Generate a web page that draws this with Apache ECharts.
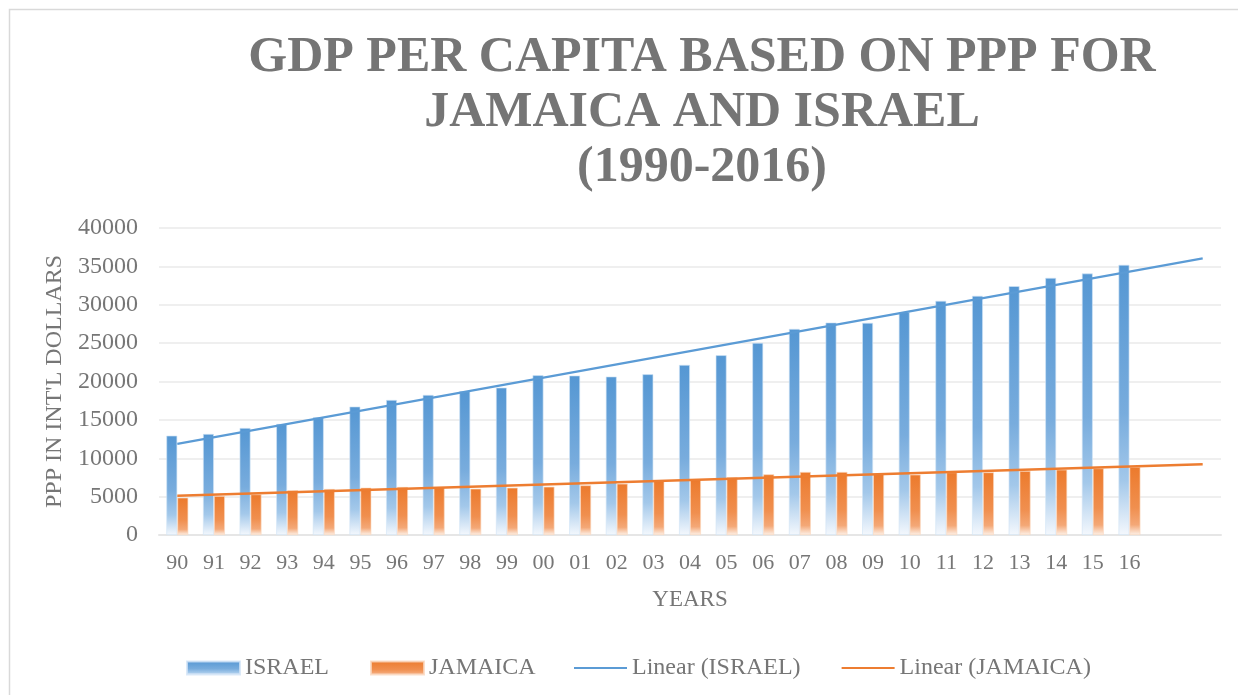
<!DOCTYPE html>
<html>
<head>
<meta charset="utf-8">
<script src="https://cdn.jsdelivr.net/npm/echarts@6/dist/echarts.min.js"></script>
<style>
html,body{margin:0;padding:0;background:#fff;}
#c{width:1238px;height:695px;}
</style>
</head>
<body>
<div id="c"></div>
<script>
// ---- data ----
var years = ['90','91','92','93','94','95','96','97','98','99','00','01','02','03','04','05','06','07','08','09','10','11','12','13','14','15','16','',''];
var israel = [12950,13170,13950,14480,15350,16740,17600,18260,18740,19210,20820,20780,20650,20950,22170,23430,25040,26860,27690,27650,29040,30520,31170,32430,33510,34080,35210];
var jamaica = [4870,5090,5300,5830,6000,6170,6260,6260,6040,6170,6300,6480,6690,7040,7220,7520,7910,8220,8220,7950,7870,8170,8170,8350,8520,8690,8870];
// trend line endpoints (first category, 2 periods past the last)
var israelTrend = [[0, 11866], [28, 36035]];
var jamaicaTrend = [[0, 5125], [28, 9216]];
var yTicks = [0,5000,10000,15000,20000,25000,30000,35000,40000];

var txt = '#767676';
var font = '"Liberation Serif","Times New Roman",serif';
var chart = echarts.init(document.getElementById('c'), null, {renderer:'canvas'});

function grad(stops){
  return new echarts.graphic.LinearGradient(0,0,0,1, stops.map(function(s){return {offset:s[0], color:s[1]};}));
}
var blueGrad = grad([[0,'#5597d3'],[0.55,'#78acdd'],[0.8,'#a3c8ea'],[1,'#f4f8fd']]);
var orangeGrad = grad([[0,'#ec7a2c'],[0.6,'#f08f4f'],[0.85,'#f4a877'],[1,'#fdf1e8']]);

chart.setOption({
  animation:false,
  backgroundColor:'#fff',
  graphic:[
    {type:'rect', shape:{x:9.5,y:9.5,width:1250,height:700}, style:{fill:'none', stroke:'#d9d9d9', lineWidth:1.5}, silent:true},
    {type:'text', x:702, y:31, silent:true,
     style:{text:'GDP PER CAPITA BASED ON PPP FOR\nJAMAICA AND ISRAEL\n(1990-2016)',
            align:'center', verticalAlign:'top', fontFamily:font, fontWeight:'bold', fontSize:50, lineHeight:55, fill:'#757575'}}
  ],
  legend:[{
    left:186, top:656, padding:0,
    itemWidth:53, itemHeight:13, itemGap:41, icon:'rect',
    textStyle:{fontFamily:font, fontSize:24, color:txt},
    data:['ISRAEL','JAMAICA']
  },{
    left:574, top:656, padding:0,
    itemWidth:53, itemHeight:2, itemGap:41, icon:'rect',
    textStyle:{fontFamily:font, fontSize:24, color:txt},
    data:['Linear (ISRAEL)','Linear (JAMAICA)']
  }],
  grid:{left:159, right:17, top:228, bottom:160},
  xAxis:{
    type:'category', data:years,
    name:'YEARS', nameLocation:'middle', nameGap:53,
    nameTextStyle:{fontFamily:font, fontSize:23, color:txt},
    axisTick:{show:false},
    axisLine:{lineStyle:{color:'#e6e6e6', width:2}},
    axisLabel:{fontFamily:font, fontSize:22, color:txt, margin:17, interval:0}
  },
  yAxis:{
    type:'value', min:yTicks[0], max:yTicks[yTicks.length-1], interval:5000,
    name:'PPP IN INT\'L DOLLARS', nameLocation:'middle', nameGap:83, nameRotate:90,
    nameTextStyle:{fontFamily:font, fontSize:24, color:txt},
    axisLine:{show:false}, axisTick:{show:false},
    axisLabel:{fontFamily:font, fontSize:24, color:txt, margin:21, formatter:function(v){return String(v);}},
    splitLine:{lineStyle:{color:'#efefef', width:2}}
  },
  series:[
    {name:'ISRAEL', type:'bar', data:israel, barWidth:11, barGap:'0%',
     itemStyle:{color:blueGrad, borderColor:'rgba(210,228,246,0.8)', borderWidth:0.8}},
    {name:'JAMAICA', type:'bar', data:jamaica, barWidth:11,
     itemStyle:{color:orangeGrad, borderColor:'rgba(250,215,190,0.8)', borderWidth:0.8}},
    {name:'Linear (ISRAEL)', type:'line', data:israelTrend, symbol:'none', z:5,
     lineStyle:{color:'#5b9bd5', width:2.2}, itemStyle:{color:'#5b9bd5'}},
    {name:'Linear (JAMAICA)', type:'line', data:jamaicaTrend, symbol:'none', z:5,
     lineStyle:{color:'#ed7d31', width:2.5}, itemStyle:{color:'#ed7d31'}}
  ]
});
</script>
</body>
</html>
